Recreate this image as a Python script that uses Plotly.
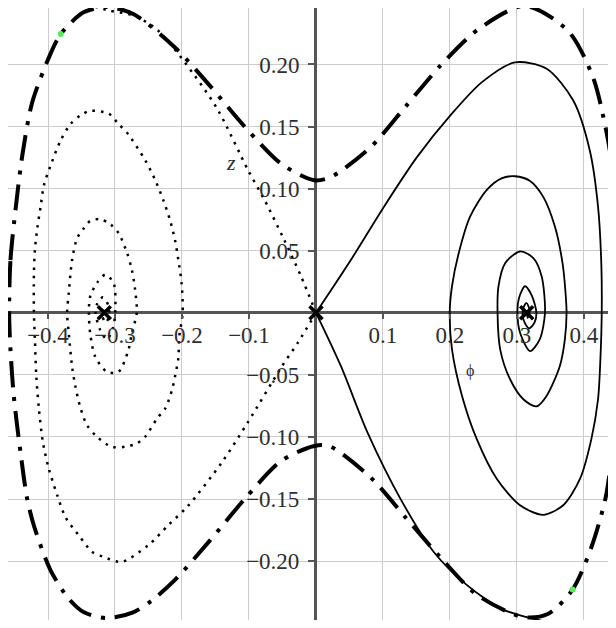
import plotly.graph_objects as go

# ---------------- data ----------------
# axis ranges
x_range = [-0.4597, 0.4478]
y_range = [-0.2474, 0.2455]

x_tick_vals = [-0.4, -0.3, -0.2, -0.1, 0.1, 0.2, 0.3, 0.4]
x_tick_text = ["\u22120.4", "\u22120.3", "\u22120.2", "\u22120.1", "0.1", "0.2", "0.3", "0.4"]
y_tick_vals = [-0.20, -0.15, -0.10, -0.05, 0.05, 0.10, 0.15, 0.20]
y_tick_text = ["\u22120.20", "\u22120.15", "\u22120.10", "\u22120.05", "0.05", "0.10", "0.15", "0.20"]

# right well: solid trajectory spiralling from the saddle into the centre
right_spiral_phi = [0, 0.052, 0.1015, 0.151, 0.2006, 0.2477, 0.297, 0.3443, 0.384, 0.4086, 0.421, 0.426, 0.4265,
                    0.4245, 0.421, 0.411, 0.394, 0.369, 0.339, 0.3046, 0.270, 0.240, 0.218, 0.203, 0.1996,
                    0.203, 0.213, 0.230, 0.255, 0.277, 0.297, 0.319, 0.339, 0.3566, 0.368, 0.3725, 0.374,
                    0.3715, 0.364, 0.3442, 0.329, 0.3095, 0.2897, 0.2749, 0.2710,
                    0.2724, 0.2823, 0.3046, 0.3244, 0.3368, 0.3418,
                    0.334, 0.3194, 0.3046, 0.3006,
                    0.303, 0.312, 0.322, 0.329, 0.326, 0.318, 0.310, 0.309, 0.314, 0.319, 0.316, 0.3145]
right_spiral_z = [0, 0.0425, 0.0855, 0.1256, 0.159, 0.1858, 0.2017, 0.1966, 0.171, 0.131, 0.0855, 0.0374, 0,
                  -0.0375, -0.0696, -0.1017, -0.1338, -0.155, -0.1627, -0.155, -0.1338, -0.1017, -0.0669, -0.0294, 0,
                  0.0214, 0.048, 0.0775, 0.099, 0.1083, 0.110, 0.1064, 0.0936, 0.0695, 0.040, 0.016, 0,
                  -0.0214, -0.0428, -0.0669, -0.0754, -0.0696, -0.0535, -0.0294, 0,
                  0.0214, 0.040, 0.0494, 0.0441, 0.0294, 0,
                  -0.0214, -0.0308, -0.016, 0,
                  0.012, 0.0214, 0.014, 0, -0.008, -0.0125, -0.006, 0.003, 0.008, 0.002, -0.004, 0]

# right well: solid branch entering the saddle from below
right_inflow_phi = [0, 0.0371, 0.0768, 0.1263, 0.1758, 0.2254, 0.275, 0.31, 0.345]
right_inflow_z = [0, -0.0428, -0.0963, -0.15, -0.1926, -0.2193, -0.238, -0.2445, -0.249]

# left well: dotted trajectory spiralling from the saddle into the centre
left_spiral_phi = [0, -0.027, -0.052, -0.1015, -0.1412, -0.191, -0.2204, -0.25, -0.29, -0.317, -0.334, -0.354,
                   -0.374, -0.386, -0.3987, -0.4076, -0.4135, -0.4175, -0.4195, -0.421,
                   -0.421, -0.4195, -0.416, -0.411, -0.406, -0.394, -0.381, -0.3665, -0.3517, -0.337, -0.3095,
                   -0.2947, -0.282, -0.255, -0.24, -0.228, -0.218, -0.2105, -0.2055, -0.2006, -0.199,
                   -0.204, -0.2055, -0.2105, -0.215, -0.225, -0.237, -0.255, -0.2675, -0.285, -0.305, -0.327,
                   -0.342, -0.352, -0.359, -0.364, -0.369, -0.3715,
                   -0.369, -0.364, -0.3566, -0.3467, -0.337, -0.322, -0.307, -0.2947, -0.282, -0.2749, -0.27, -0.2675,
                   -0.2749, -0.28, -0.2947, -0.312, -0.3295, -0.337, -0.339,
                   -0.337, -0.327, -0.3145, -0.302, -0.2997,
                   -0.303, -0.312, -0.322, -0.329, -0.326, -0.318, -0.31, -0.309, -0.314, -0.319, -0.317, -0.316]
left_spiral_z = [0, -0.024, -0.044, -0.088, -0.121, -0.1555, -0.171, -0.187, -0.2006, -0.1966, -0.1926, -0.1793,
                 -0.1645, -0.1472, -0.1258, -0.1043, -0.0776, -0.0509, -0.0214, 0,
                 0.032, 0.0508, 0.068, 0.0855, 0.103, 0.1217, 0.139, 0.152, 0.159, 0.1626, 0.1605,
                 0.152, 0.145, 0.123, 0.107, 0.091, 0.0749, 0.0588, 0.0428, 0.024, 0,
                 -0.019, -0.0367, -0.0515, -0.0622, -0.077, -0.085, -0.0998, -0.1052, -0.1079, -0.1079, -0.0998,
                 -0.0902, -0.0757, -0.0596, -0.0435, -0.0166, 0,
                 0.016, 0.0428, 0.060, 0.068, 0.074, 0.0754, 0.0714, 0.0642, 0.0482, 0.0348, 0.0187, 0,
                 -0.0166, -0.030, -0.0475, -0.0475, -0.0354, -0.0166, 0,
                 0.0133, 0.024, 0.0307, 0.024, 0,
                 -0.012, -0.0214, -0.014, 0, 0.008, 0.0125, 0.006, -0.003, -0.008, -0.002, 0.004, 0]

# left well: dotted branch entering the saddle from above
left_inflow_phi = [0, -0.0223, -0.0475, -0.0768, -0.1015, -0.146, -0.181, -0.235, -0.27, -0.3095, -0.345]
left_inflow_z = [0, 0.0294, 0.0588, 0.0909, 0.115, 0.163, 0.191, 0.227, 0.239, 0.2435, 0.249]

# outer dash-dot orbit
outer_phi = [-0.458, -0.456, -0.448, -0.438, -0.4235, -0.396, -0.381, -0.347, -0.312, -0.272, -0.2105, -0.1585,
             -0.1065, -0.052, -0.0025, 0.0223, 0.0817, 0.1337, 0.1857, 0.2427, 0.312, 0.3764, 0.4135, 0.4324,
             0.4458, 0.455, 0.458, 0.455, 0.4432, 0.4324, 0.411, 0.383, 0.3467, 0.3095, 0.2402, 0.1857,
             0.1337, 0.0817, 0.0198, -0.0025, -0.052, -0.1065, -0.1585, -0.2105, -0.245, -0.272, -0.312,
             -0.347, -0.369, -0.396, -0.421, -0.431, -0.441, -0.451, -0.456, -0.458]
outer_z = [0, 0.0425, 0.0853, 0.128, 0.1696, 0.209, 0.2245, 0.242, 0.2464, 0.2405, 0.2137, 0.183,
           0.150, 0.120, 0.1067, 0.1094, 0.1335, 0.1661, 0.199, 0.2285, 0.2472, 0.227, 0.1897, 0.1487,
           0.1054, 0.05, 0, -0.05, -0.1073, -0.1487, -0.1888, -0.2229, -0.2424, -0.2451, -0.2271, -0.1969,
           -0.1648, -0.1327, -0.1073, -0.1073, -0.1193, -0.150, -0.1835, -0.2151, -0.2317, -0.241, -0.2459,
           -0.241, -0.2303, -0.2076, -0.1715, -0.150, -0.1126, -0.0672, -0.0297, 0]

# start / end points of the outer orbit (green)
green_phi = [-0.381, 0.383]
green_z = [0.2245, -0.2229]

# equilibria
eq_phi = [-0.316, 0.0, 0.3145]
eq_z = [0.0, 0.0, 0.0]

# ---------------- figure ----------------
fig = go.Figure()

dot_line = dict(color="black", width=2.5, dash="2.5px,6px", shape="spline", smoothing=0.8)
solid_line = dict(color="black", width=1.8, shape="spline", smoothing=0.8)

fig.add_trace(go.Scatter(x=left_spiral_phi, y=left_spiral_z, mode="lines", line=dot_line, hoverinfo="skip"))
fig.add_trace(go.Scatter(x=left_inflow_phi, y=left_inflow_z, mode="lines", line=dot_line, hoverinfo="skip"))
fig.add_trace(go.Scatter(x=right_spiral_phi, y=right_spiral_z, mode="lines", line=solid_line, hoverinfo="skip"))
fig.add_trace(go.Scatter(x=right_inflow_phi, y=right_inflow_z, mode="lines", line=solid_line, hoverinfo="skip"))
fig.add_trace(go.Scatter(x=outer_phi, y=outer_z, mode="lines",
                         line=dict(color="black", width=4, dash="26px,10px,4px,10px", shape="spline", smoothing=0.8),
                         hoverinfo="skip"))
fig.add_trace(go.Scatter(x=green_phi, y=green_z, mode="markers",
                         marker=dict(color="#55ee55", size=6), hoverinfo="skip"))
fig.add_trace(go.Scatter(x=eq_phi, y=eq_z, mode="markers",
                         marker=dict(symbol="x-thin", size=13, line=dict(color="black", width=3.5)),
                         hoverinfo="skip"))

x_pos = (0 - y_range[0]) / (y_range[1] - y_range[0])
y_pos = (0 - x_range[0]) / (x_range[1] - x_range[0])

tick_font = dict(family="Liberation Serif, Times New Roman, serif", size=23, color="#2e2e2e")

fig.update_layout(
    width=608, height=612,
    margin=dict(l=0, r=0, t=0, b=0),
    paper_bgcolor="white", plot_bgcolor="white",
    showlegend=False,
    xaxis=dict(range=x_range, anchor="free", position=x_pos,
               tickvals=x_tick_vals, ticktext=x_tick_text, tickfont=tick_font,
               ticks="outside", ticklen=5, tickwidth=1.5, tickcolor="#555555",
               ticklabelstandoff=-3,
               showgrid=True, gridcolor="#cccccc", gridwidth=1.3,
               zeroline=True, zerolinecolor="#555555", zerolinewidth=2.5,
               showline=False, fixedrange=True),
    yaxis=dict(range=y_range, anchor="free", position=y_pos,
               tickvals=y_tick_vals, ticktext=y_tick_text, tickfont=tick_font,
               ticks="outside", ticklen=8, tickwidth=1.5, tickcolor="#555555",
               ticklabelstandoff=4,
               showgrid=True, gridcolor="#cccccc", gridwidth=1.3,
               zeroline=True, zerolinecolor="#555555", zerolinewidth=2.5,
               showline=False, fixedrange=True),
    annotations=[
        dict(x=-0.1269, y=0.121, xref="x", yref="y", text="z", showarrow=False,
             font=dict(family="Liberation Serif, serif", size=22, color="#2e2e2e", style="italic")),
        dict(x=0.2299, y=-0.047, xref="x", yref="y", text="\u03d5", showarrow=False,
             font=dict(family="Liberation Serif, serif", size=16, color="#2e2e2e")),
    ],
)

fig.write_html("out.html")
